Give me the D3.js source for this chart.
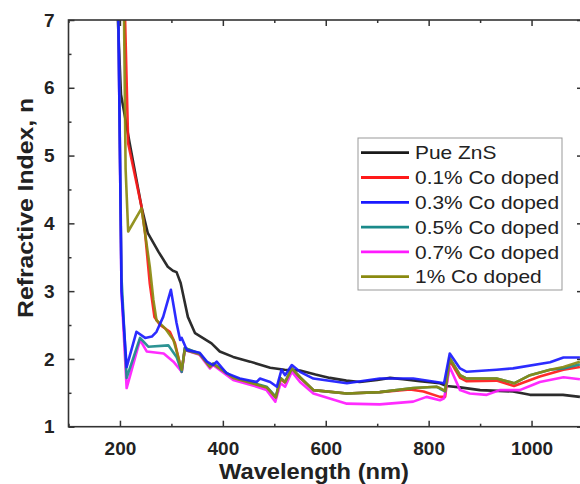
<!DOCTYPE html>
<html><head><meta charset="utf-8">
<script src="https://cdn.jsdelivr.net/npm/d3@7"></script>
<style>html,body{margin:0;padding:0;background:#fff;} svg{display:block;}</style>
</head><body>
<svg id="chart" width="580" height="484"></svg>
<script>
// ---- data (wavelength nm, refractive index n) ----
const seriesNames = ["Pue ZnS","0.1% Co doped","0.3% Co doped","0.5% Co doped","0.7% Co doped","1% Co doped"];
const seriesColors = ["#1a1a1a","#ff1a1a","#1a1aff","#1a8a8a","#ff1aff","#8a8a10"];
const xTicks = [200,400,600,800,1000];
const yTicks = [1,2,3,4,5,6,7];

const pureZnS = [[196,7.0],[202,5.9],[219,5.18],[242,4.24],[254,3.86],[275,3.58],[293,3.36],[303,3.30],[310,3.28],[318,3.12],[332,2.62],[346,2.38],[378,2.23],[394,2.11],[420,2.03],[453,1.96],[492,1.87],[520,1.84],[550,1.83],[580,1.77],[608,1.72],[640,1.68],[666,1.66],[700,1.69],[725,1.72],[750,1.70],[783,1.67],[822,1.64],[835,1.60],[861,1.58],[900,1.54],[964,1.52],[997,1.47],[1061,1.47],[1094,1.44]];
const co01 = [[210,7.0],[216,5.18],[242,4.24],[249,3.85],[258,3.11],[267,2.62],[278,2.50],[297,2.40],[307,2.23],[320,1.81],[326,2.16],[355,2.07],[375,1.88],[381,1.92],[420,1.72],[466,1.62],[485,1.58],[503,1.43],[512,1.70],[521,1.65],[534,1.85],[550,1.72],[576,1.54],[641,1.49],[705,1.51],[764,1.55],[790,1.52],[822,1.44],[832,1.44],[841,1.98],[861,1.72],[874,1.67],[932,1.68],[958,1.62],[966,1.60],[1016,1.74],[1062,1.84],[1094,1.88]];
const co03 = [[197,7.0],[203,3.0],[213,1.88],[232,2.40],[249,2.31],[262,2.33],[271,2.40],[284,2.62],[299,3.02],[310,2.53],[317,2.28],[320,2.31],[330,2.13],[355,2.09],[369,1.96],[381,1.91],[388,1.96],[407,1.79],[433,1.71],[466,1.66],[472,1.71],[492,1.66],[505,1.59],[514,1.84],[521,1.76],[534,1.91],[550,1.81],[576,1.71],[641,1.64],[705,1.71],[770,1.71],[815,1.66],[830,1.64],[841,2.08],[861,1.86],[874,1.81],[932,1.84],[964,1.86],[1036,1.95],[1062,2.02],[1094,2.02]];
const co05 = [[197,7.0],[203,3.2],[213,1.72],[239,2.31],[255,2.18],[294,2.20],[310,2.03],[320,1.81],[326,2.16],[355,2.08],[375,1.89],[381,1.93],[420,1.73],[466,1.63],[485,1.59],[503,1.44],[512,1.72],[521,1.66],[534,1.86],[550,1.73],[576,1.54],[641,1.49],[705,1.51],[770,1.57],[815,1.59],[822,1.56],[832,1.52],[841,2.01],[861,1.76],[874,1.71],[932,1.71],[958,1.66],[966,1.64],[997,1.76],[1036,1.84],[1062,1.86],[1094,1.92]];
const co07 = [[197,7.0],[203,3.0],[213,1.57],[239,2.28],[252,2.11],[285,2.08],[304,1.96],[320,1.81],[326,2.13],[355,2.06],[375,1.86],[381,1.91],[420,1.69],[466,1.59],[485,1.54],[502,1.37],[512,1.64],[521,1.59],[534,1.81],[550,1.66],[576,1.49],[641,1.34],[705,1.33],[770,1.37],[796,1.44],[822,1.39],[830,1.42],[841,1.88],[861,1.54],[880,1.49],[913,1.47],[938,1.54],[977,1.54],[1003,1.62],[1016,1.66],[1062,1.73],[1094,1.70]];
const co1 = [[208,7.0],[211,4.8],[216,3.88],[242,4.22],[258,3.36],[265,2.87],[271,2.57],[288,2.45],[304,2.28],[320,1.84],[326,2.13],[355,2.07],[375,1.88],[381,1.93],[420,1.72],[466,1.62],[485,1.58],[503,1.43],[512,1.72],[521,1.66],[534,1.86],[550,1.73],[576,1.54],[641,1.49],[705,1.51],[770,1.57],[815,1.59],[822,1.57],[832,1.53],[841,2.01],[861,1.76],[874,1.71],[932,1.71],[958,1.66],[966,1.64],[997,1.76],[1036,1.84],[1062,1.88],[1094,1.96]];
const seriesData = [pureZnS, co01, co03, co05, co07, co1];
const drawOrder = [0,1,4,3,5,2];

// ---- layout ----
const svg = d3.select("#chart");
const L = 68.5, R = 583, T = 20, B = 426.7;
const x = d3.scaleLinear().domain([100,1100]).range([L,R]);
const y = d3.scaleLinear().domain([1,7]).range([B,T]);
const font = "'Liberation Sans', Arial, sans-serif";

svg.append("clipPath").attr("id","clip").append("rect")
  .attr("x",L).attr("y",T).attr("width",R-L).attr("height",B-T);

// lines
const line = d3.line().x(d=>x(d[0])).y(d=>y(d[1])).curve(d3.curveLinear);
const gLines = svg.append("g").attr("clip-path","url(#clip)");
drawOrder.forEach(i=>{
  gLines.append("path").datum(seriesData[i])
    .attr("d",line).attr("fill","none")
    .attr("stroke",seriesColors[i]).attr("stroke-width",2.6)
    .attr("stroke-linejoin","round").attr("stroke-opacity",0.92);
});

// axes
const axisColor = "#333";
function styleAxis(g){
  g.select(".domain").remove();
  g.selectAll("line").attr("stroke",axisColor).attr("stroke-width",1.5);
  g.selectAll("text").attr("font-family",font).attr("font-weight","bold").attr("font-size",19).attr("fill","#222");
}
const minorX = d3.range(100,1101,100).filter(v=>!xTicks.includes(v));
const minorY = d3.range(1.5,7,1);
// bottom
svg.append("g").attr("transform",`translate(0,${B})`)
  .call(d3.axisBottom(x).tickValues(xTicks).tickSize(-6).tickPadding(15).tickFormat(d3.format("d")))
  .call(styleAxis);
svg.append("g").attr("transform",`translate(0,${B})`)
  .call(d3.axisBottom(x).tickValues(minorX).tickSize(-3).tickFormat(""))
  .call(styleAxis);
// top
svg.append("g").attr("transform",`translate(0,${T})`)
  .call(d3.axisTop(x).tickValues(xTicks).tickSize(-6).tickFormat(""))
  .call(styleAxis);
svg.append("g").attr("transform",`translate(0,${T})`)
  .call(d3.axisTop(x).tickValues(minorX).tickSize(-3).tickFormat(""))
  .call(styleAxis);
// left
svg.append("g").attr("transform",`translate(${L},0)`)
  .call(d3.axisLeft(y).tickValues(yTicks).tickSize(-6).tickPadding(14).tickFormat(d3.format("d")))
  .call(styleAxis);
svg.append("g").attr("transform",`translate(${L},0)`)
  .call(d3.axisLeft(y).tickValues(minorY).tickSize(-3).tickFormat(""))
  .call(styleAxis);
// right
svg.append("g").attr("transform",`translate(${R},0)`)
  .call(d3.axisRight(y).tickValues(yTicks).tickSize(-6).tickFormat(""))
  .call(styleAxis);
svg.append("g").attr("transform",`translate(${R},0)`)
  .call(d3.axisRight(y).tickValues(minorY).tickSize(-3).tickFormat(""))
  .call(styleAxis);

// frame
svg.append("rect").attr("x",L).attr("y",T).attr("width",R-L).attr("height",B-T)
  .attr("fill","none").attr("stroke",axisColor).attr("stroke-width",1.6);

// axis titles
svg.append("text").attr("x",314).attr("y",479).attr("text-anchor","middle")
  .attr("font-family",font).attr("font-weight","bold").attr("font-size",22).attr("fill","#222")
  .attr("textLength",190).attr("lengthAdjust","spacingAndGlyphs")
  .text("Wavelength (nm)");
svg.append("text").attr("transform","translate(33,208) rotate(-90)").attr("text-anchor","middle")
  .attr("font-family",font).attr("font-weight","bold").attr("font-size",22).attr("fill","#222")
  .attr("textLength",220).attr("lengthAdjust","spacingAndGlyphs")
  .text("Refractive Index, n");

// legend
const lg = svg.append("g");
lg.append("rect").attr("x",358).attr("y",138).attr("width",204).attr("height",152)
  .attr("fill","#fff").attr("stroke","#999").attr("stroke-width",1);
seriesNames.forEach((name,i)=>{
  const yy = 152.7 + i*24.8;
  lg.append("line").attr("x1",361).attr("x2",409).attr("y1",yy).attr("y2",yy)
    .attr("stroke",seriesColors[i]).attr("stroke-width",2.8);
  const t = lg.append("text").attr("x",415).attr("y",yy).attr("dy","0.36em")
    .attr("font-family",font).attr("font-size",18.5).attr("fill","#222").text(name);
  const w = t.node().getComputedTextLength();
  t.attr("textLength",w*1.13).attr("lengthAdjust","spacingAndGlyphs");
});
</script>
</body></html>
